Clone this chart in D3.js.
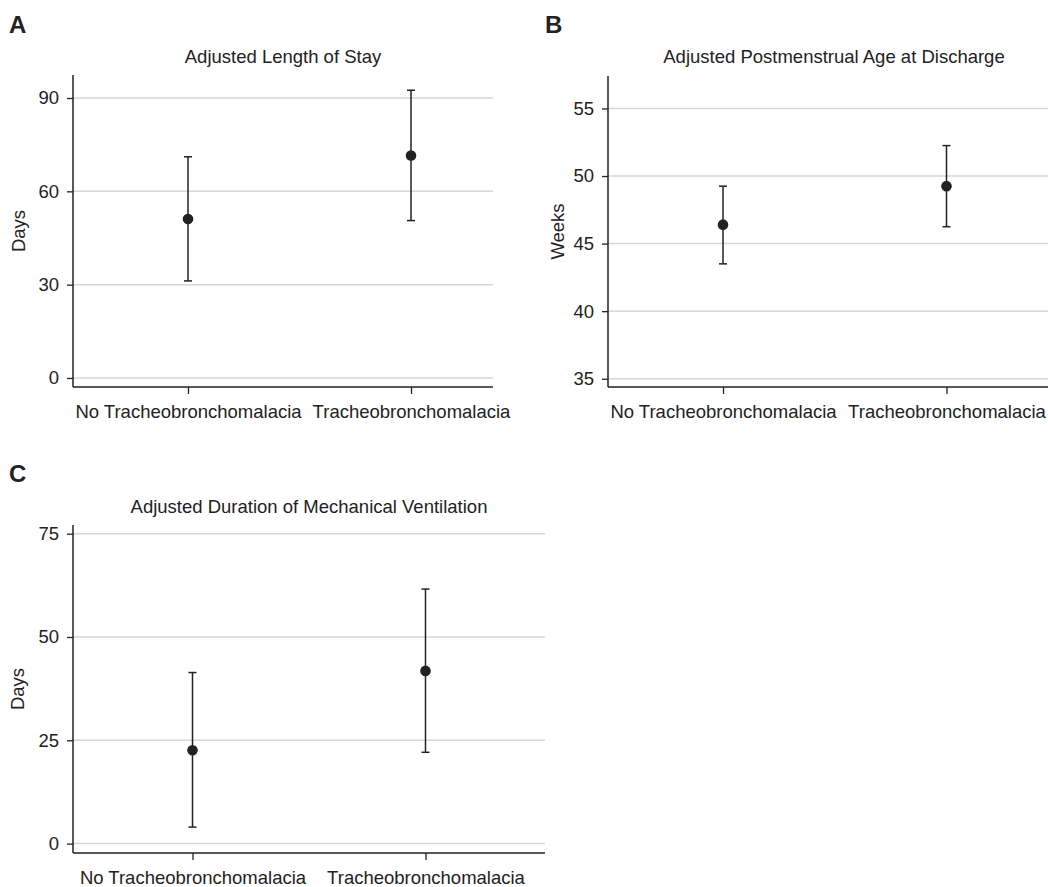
<!DOCTYPE html>
<html>
<head>
<meta charset="utf-8">
<script src="https://cdn.jsdelivr.net/npm/d3@7"></script>
<style>
  body { margin: 0; background: #fff; }
  svg { display: block; font-family: "Liberation Sans", Arial, sans-serif; }
</style>
</head>
<body>
<script>
// categories shared by all three panels
var categories = ["No Tracheobronchomalacia", "Tracheobronchomalacia"];

// A: adjusted length of stay (days)
var losEstimate = [51.1, 71.5];
var losLower = [31.2, 50.6];
var losUpper = [71.1, 92.5];
var losTicks = [0, 30, 60, 90];

// B: adjusted postmenstrual age at discharge (weeks)
var pmaEstimate = [46.4, 49.25];
var pmaLower = [43.5, 46.25];
var pmaUpper = [49.25, 52.25];
var pmaTicks = [35, 40, 45, 50, 55];

// C: adjusted duration of mechanical ventilation (days)
var mvEstimate = [22.6, 41.8];
var mvLower = [4.0, 22.1];
var mvUpper = [41.4, 61.6];
var mvTicks = [0, 25, 50, 75];

var svg = d3.select("body").append("svg")
  .attr("width", 1048)
  .attr("height", 887);

var ink = "#222";
var fs = 18.5;

function panel(opt) {
  var g = svg.append("g");

  var y = d3.scaleLinear().domain(opt.yDomain).range([opt.bottom, opt.top]);
  var x = d3.scalePoint().domain(categories)
    .range([opt.left + opt.pad[0], opt.left + opt.pad[1]]);

  // panel letter
  g.append("text")
    .attr("x", opt.letterX).attr("y", opt.letterY)
    .attr("font-size", 24).attr("font-weight", "bold").attr("fill", ink)
    .text(opt.letter);

  // title
  g.append("text")
    .attr("x", (opt.left + opt.right) / 2).attr("y", opt.titleY)
    .attr("text-anchor", "middle").attr("font-size", fs).attr("fill", ink)
    .text(opt.title);

  // gridlines
  g.append("g").selectAll("line")
    .data(opt.ticks)
    .enter().append("line")
      .attr("x1", opt.left).attr("x2", opt.right)
      .attr("y1", function(d) { return y(d); })
      .attr("y2", function(d) { return y(d); })
      .attr("stroke", "#d6d6d6").attr("stroke-width", 1.5);

  // y axis
  var yAxis = g.append("g")
    .attr("transform", "translate(" + opt.left + ",0)")
    .call(d3.axisLeft(y).tickValues(opt.ticks).tickSize(6).tickPadding(8).tickSizeOuter(0));
  yAxis.select(".domain").remove();
  yAxis.selectAll(".tick line").attr("stroke", ink).attr("stroke-width", 1.3);
  yAxis.selectAll(".tick text").attr("font-size", fs).attr("fill", ink)
    .attr("font-family", "Liberation Sans, Arial, sans-serif");
  g.append("line")
    .attr("x1", opt.left).attr("x2", opt.left)
    .attr("y1", opt.top).attr("y2", opt.bottom)
    .attr("stroke", ink).attr("stroke-width", 1.5);

  // x axis
  var xAxis = g.append("g")
    .attr("transform", "translate(0," + opt.bottom + ")")
    .call(d3.axisBottom(x).tickSize(7).tickPadding(11).tickSizeOuter(0));
  xAxis.select(".domain").remove();
  xAxis.selectAll(".tick line").attr("stroke", ink).attr("stroke-width", 1.3);
  xAxis.selectAll(".tick text").attr("font-size", fs).attr("fill", ink)
    .attr("font-family", "Liberation Sans, Arial, sans-serif");
  g.append("line")
    .attr("x1", opt.left).attr("x2", opt.right)
    .attr("y1", opt.bottom).attr("y2", opt.bottom)
    .attr("stroke", ink).attr("stroke-width", 1.5);

  // y label
  g.append("text")
    .attr("transform", "translate(" + opt.labelX + "," + ((opt.top + opt.bottom) / 2) + ") rotate(-90)")
    .attr("text-anchor", "middle").attr("font-size", fs).attr("fill", ink)
    .text(opt.yLabel);

  // error bars
  var bars = g.append("g").selectAll("g")
    .data(categories)
    .enter().append("g");

  bars.append("line")
    .attr("x1", function(d) { return x(d); })
    .attr("x2", function(d) { return x(d); })
    .attr("y1", function(d, i) { return y(opt.lower[i]); })
    .attr("y2", function(d, i) { return y(opt.upper[i]); })
    .attr("stroke", ink).attr("stroke-width", 1.5);

  bars.append("line")
    .attr("x1", function(d) { return x(d) - 4; })
    .attr("x2", function(d) { return x(d) + 4; })
    .attr("y1", function(d, i) { return y(opt.upper[i]); })
    .attr("y2", function(d, i) { return y(opt.upper[i]); })
    .attr("stroke", ink).attr("stroke-width", 1.5);

  bars.append("line")
    .attr("x1", function(d) { return x(d) - 4; })
    .attr("x2", function(d) { return x(d) + 4; })
    .attr("y1", function(d, i) { return y(opt.lower[i]); })
    .attr("y2", function(d, i) { return y(opt.lower[i]); })
    .attr("stroke", ink).attr("stroke-width", 1.5);

  bars.append("circle")
    .attr("cx", function(d) { return x(d); })
    .attr("cy", function(d, i) { return y(opt.estimate[i]); })
    .attr("r", 5.3)
    .attr("fill", ink);
}

panel({
  letter: "A", letterX: 9, letterY: 33,
  title: "Adjusted Length of Stay", titleY: 63,
  yLabel: "Days", labelX: 25,
  left: 73, right: 493, top: 75, bottom: 387, pad: [115, 338],
  yDomain: [-2.9, 97.4], ticks: losTicks,
  estimate: losEstimate, lower: losLower, upper: losUpper
});

panel({
  letter: "B", letterX: 545, letterY: 33,
  title: "Adjusted Postmenstrual Age at Discharge", titleY: 63,
  yLabel: "Weeks", labelX: 564,
  left: 608, right: 1060, top: 76, bottom: 387, pad: [115, 338.5],
  yDomain: [34.39, 57.4], ticks: pmaTicks,
  estimate: pmaEstimate, lower: pmaLower, upper: pmaUpper
});

panel({
  letter: "C", letterX: 9, letterY: 482,
  title: "Adjusted Duration of Mechanical Ventilation", titleY: 513,
  yLabel: "Days", labelX: 24,
  left: 73, right: 545, top: 525, bottom: 853, pad: [119.5, 352.5],
  yDomain: [-2.27, 77.1], ticks: mvTicks,
  estimate: mvEstimate, lower: mvLower, upper: mvUpper
});
</script>
</body>
</html>
